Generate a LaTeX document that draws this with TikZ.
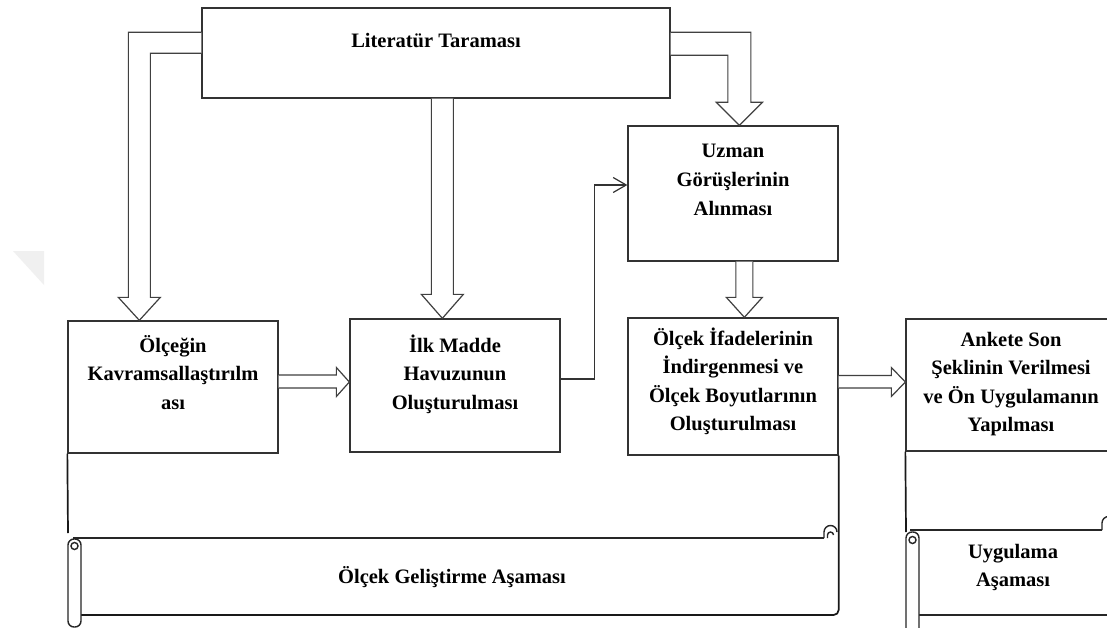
\documentclass[tikz,border=0pt]{standalone}
\usepackage{fontspec}
\setmainfont{Liberation Serif}
\usetikzlibrary{calc,arrows.meta}
\begin{document}
\begin{tikzpicture}[x=1pt,y=-1pt]
\tikzset{
 boxst/.style={draw=black!80,line width=1.3pt,fill=white,inner sep=0pt,rectangle},
 txt/.style={font=\bfseries\fontsize{20.5}{28.5}\selectfont,align=center,inner sep=0pt,text=black},
 hollow/.style={draw=black!75,line width=1.2pt,fill=white,line join=miter},
 conn/.style={draw=black!80,line width=1.2pt,-{Straight Barb[length=13pt,width=15pt]}},
 scrollst/.style={draw=black!85,line width=1.4pt},
 sideline/.style={draw=black!90,line width=1.7pt},
}
\useasboundingbox (0,0) rectangle (1107,628);
\fill[white] (0,0) rectangle (1107,628);
\clip (0,0) rectangle (1107,628);
% watermark
\fill[gray!12] (13,251) -- (44,251) -- (44,285) -- cycle;
% boxes
\node[boxst,minimum width=468pt,minimum height=90pt] (lit) at (436,53) {};
\node[boxst,minimum width=210pt,minimum height=132pt] (b1) at (173,387) {};
\node[boxst,minimum width=210pt,minimum height=133pt] (b2) at (455,385.5) {};
\node[boxst,minimum width=210pt,minimum height=135pt] (uz) at (733,193.5) {};
\node[boxst,minimum width=210pt,minimum height=137pt] (b3) at (733,386.5) {};
\node[boxst,minimum width=210pt,minimum height=132pt] (b4) at (1011,385) {};
% hollow arrows
\coordinate (t1) at ($(b1.north west)+(72,0)$);
\draw[hollow] ($(lit.north west)+(0,25)$) -| ($(t1)+(-11,-23)$) -- ($(t1)+(-21,-23)$) -- (t1) -- ($(t1)+(21,-23)$) -- ($(t1)+(11,-23)$) |- ($(lit.north west)+(0,46)$);
\coordinate (t2) at ($(b2.north west)+(93,0)$);
\draw[hollow] ($(t2 |- lit.south)+(-11,0)$) -- ($(t2)+(-11,-24)$) -- ($(t2)+(-21,-24)$) -- (t2) -- ($(t2)+(21,-24)$) -- ($(t2)+(11,-24)$) -- ($(t2 |- lit.south)+(11,0)$);
\coordinate (t3) at ($(uz.north west)+(112,0)$);
\draw[hollow] ($(lit.north east)+(0,25)$) -| ($(t3)+(11.5,-23)$) -- ($(t3)+(23,-23)$) -- (t3) -- ($(t3)+(-23,-23)$) -- ($(t3)+(-11.5,-23)$) |- ($(lit.north east)+(0,48)$);
\coordinate (t4) at ($(b3.north west)+(117,0)$);
\draw[hollow] ($(t4 |- uz.south)+(-8.5,0)$) -- ($(t4)+(-8.5,-20)$) -- ($(t4)+(-18,-20)$) -- (t4) -- ($(t4)+(18,-20)$) -- ($(t4)+(8.5,-20)$) -- ($(t4 |- uz.south)+(8.5,0)$);
\coordinate (t5) at ($(b2.west)+(0,-3.5)$);
\draw[hollow] ($(t5 -| b1.east)+(0,-7)$) -- ($(t5)+(-13,-7)$) -- ($(t5)+(-13,-14.5)$) -- (t5) -- ($(t5)+(-13,14.5)$) -- ($(t5)+(-13,6)$) -- ($(t5 -| b1.east)+(0,6)$);
\coordinate (t6) at ($(b4.west)+(0,-3)$);
\draw[hollow] ($(t6 -| b3.east)+(0,-6.5)$) -- ($(t6)+(-14,-6.5)$) -- ($(t6)+(-14,-14.5)$) -- (t6) -- ($(t6)+(-14,14.5)$) -- ($(t6)+(-14,6)$) -- ($(t6 -| b3.east)+(0,6)$);
% thin connector
\draw[conn] ($(b2.east)+(0,-6.5)$) -- ++(34,0) |- ($(uz.west)+(0,-8.5)$);
% scroll 1
\draw[sideline] (b1.south west) -- (68,533);
\draw[scrollst] (73,538) -- (824,538);
\draw[scrollst] (824,538) -- (824,532) arc[start angle=180,end angle=360,radius=6.5];
\draw[scrollst] (827.5,538) -- (827.5,535) arc[start angle=180,end angle=360,radius=3];
\draw[sideline,rounded corners=5] (b3.south east) |- (81,615);
\draw[scrollst,fill=white,rounded corners=6] (68,539) rectangle (81,627);
\draw[scrollst] (74.5,546) circle (3.5);
% scroll 2
\draw[sideline] (b4.south west) -- (906,532);
\draw[scrollst] (910,530) -- (1102,530);
\draw[scrollst] (1102,530) -- (1102,523) arc[start angle=180,end angle=360,radius=6.5];
\draw[scrollst] (919,615) -- (1107,615);
\draw[scrollst,fill=white,rounded corners=6] (906,532) rectangle (919,636);
\draw[scrollst] (912.5,540) circle (3.5);
% texts (base anchor = last line baseline)
\node[txt,anchor=base] (tlit) at (436,48) {Literatür Taraması};
\node[txt,anchor=base] (tb1) at (173,409) {Ölçeğin\\Kavramsallaştırılm\\ası};
\node[txt,anchor=base] (tb2) at (455,409) {İlk Madde\\Havuzunun\\Oluşturulması};
\node[txt,anchor=base] (tuz) at (733,215) {Uzman\\Görüşlerinin\\Alınması};
\node[txt,anchor=base] (tb3) at (733,430.5) {Ölçek İfadelerinin\\İndirgenmesi ve\\Ölçek Boyutlarının\\Oluşturulması};
\node[txt,anchor=base] (tb4) at (1011,431.5) {Ankete Son\\Şeklinin Verilmesi\\ve Ön Uygulamanın\\Yapılması};
\node[txt,anchor=base] (ts1) at (452,583) {Ölçek Geliştirme Aşaması};
\node[txt,anchor=base] (ts2) at (1013,586.5) {Uygulama\\Aşaması};
\end{tikzpicture}
\end{document}
